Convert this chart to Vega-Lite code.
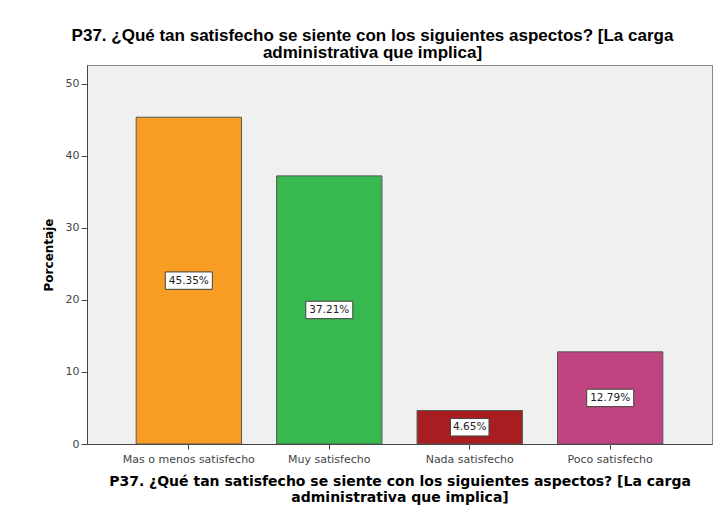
{
  "$schema": "https://vega.github.io/schema/vega-lite/v6.json",
  "autosize": "none",
  "width": 625,
  "height": 379,
  "padding": {"left": 87, "top": 65, "right": 8, "bottom": 81},
  "background": "white",
  "title": {
    "text": ["P37. ¿Qué tan satisfecho se siente con los siguientes aspectos? [La carga", "administrativa que implica]"],
    "anchor": "middle",
    "dx": -27,
    "offset": 3,
    "font": "Liberation Sans",
    "fontSize": 17,
    "fontWeight": "bold",
    "color": "#000000",
    "lineHeight": 17.5
  },
  "data": {
    "values": [
      {"categoria": "Mas o menos satisfecho", "porcentaje": 45.35, "etiqueta": "45.35%"},
      {"categoria": "Muy satisfecho", "porcentaje": 37.21, "etiqueta": "37.21%"},
      {"categoria": "Nada satisfecho", "porcentaje": 4.65, "etiqueta": "4.65%"},
      {"categoria": "Poco satisfecho", "porcentaje": 12.79, "etiqueta": "12.79%"}
    ]
  },
  "encoding": {
    "x": {
      "field": "categoria",
      "type": "nominal",
      "sort": null,
      "scale": {"paddingInner": 0.25, "paddingOuter": 0.35},
      "axis": {
        "title": ["P37. ¿Qué tan satisfecho se siente con los siguientes aspectos? [La carga", "administrativa que implica]"],
        "titleFont": "DejaVu Sans",
        "titleFontSize": 14,
        "titleFontWeight": "bold",
        "titleColor": "#000000",
        "titleLineHeight": 16.5,
        "titlePadding": 10,
        "labelAngle": 0,
        "labelFont": "DejaVu Sans",
        "labelFontSize": 11,
        "labelColor": "#444444",
        "labelPadding": 4,
        "tickSize": 5,
        "tickColor": "#444444",
        "domainColor": "#444444",
        "grid": false
      }
    }
  },
  "layer": [
    {
      "mark": {"type": "bar", "stroke": "#555555", "strokeWidth": 1},
      "encoding": {
        "y": {
          "field": "porcentaje",
          "type": "quantitative",
          "scale": {"domain": [0, 52.6], "nice": false},
          "axis": {
            "title": "Porcentaje",
            "titleFont": "DejaVu Sans",
            "titleFontSize": 12,
            "titleFontWeight": "bold",
            "titleColor": "#000000",
            "titlePadding": 10,
            "values": [0, 10, 20, 30, 40, 50],
            "labelFont": "DejaVu Sans",
            "labelFontSize": 11,
            "labelColor": "#444444",
            "labelPadding": 2,
            "tickSize": 6,
            "tickColor": "#444444",
            "domainColor": "#444444",
            "grid": false
          }
        },
        "color": {
          "field": "categoria",
          "type": "nominal",
          "sort": null,
          "scale": {"range": ["#F79D23", "#37B94F", "#A71D20", "#C0447F"]},
          "legend": null
        }
      }
    },
    {
      "transform": [{"calculate": "datum.porcentaje / 2", "as": "mitad"}],
      "mark": {"type": "point", "filled": true, "fill": "white", "stroke": "#444444", "strokeWidth": 1, "opacity": 1, "size": 2209},
      "encoding": {
        "y": {"field": "mitad", "type": "quantitative"},
        "shape": {
          "condition": {"test": "datum.porcentaje < 10", "value": "M-0.82,-0.37H0.82V0.37H-0.82Z"},
          "value": "M-1,-0.37H1V0.37H-1Z"
        }
      }
    },
    {
      "transform": [{"calculate": "datum.porcentaje / 2", "as": "mitad"}],
      "mark": {"type": "text", "font": "DejaVu Sans", "fontSize": 10.5, "color": "#222222", "baseline": "middle", "align": "center"},
      "encoding": {
        "y": {"field": "mitad", "type": "quantitative"},
        "text": {"field": "etiqueta", "type": "nominal"}
      }
    }
  ],
  "config": {
    "view": {"fill": "#F0F0F0", "stroke": "#888888", "strokeWidth": 1}
  }
}
